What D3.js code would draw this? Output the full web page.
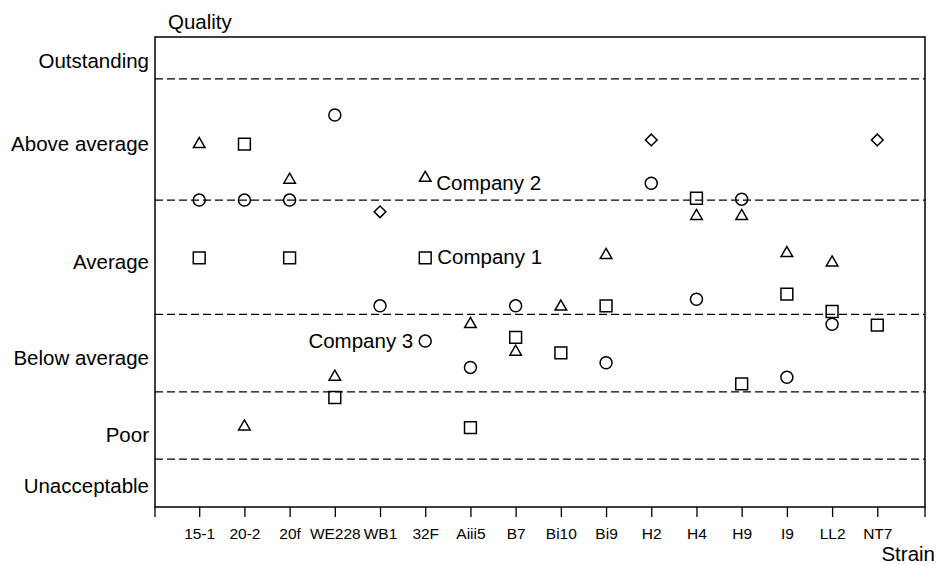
<!DOCTYPE html>
<html>
<head>
<meta charset="utf-8">
<script src="https://cdn.jsdelivr.net/npm/d3@7"></script>
<style>
  html, body { margin: 0; padding: 0; background: #fff; }
  svg text { font-family: "Liberation Sans", Arial, Helvetica, sans-serif; fill: #000; }
</style>
</head>
<body>
<svg id="chart" width="936" height="565"></svg>
<script>
// ---------- data ----------
const strains = ["15-1","20-2","20f","WE228","WB1","32F","Aiii5","B7","Bi10","Bi9","H2","H4","H9","I9","LL2","NT7"];
// quality score (0 = worst, 100 = best), null = not tested
const company1 = [53.0, 77.2, 53.0, 23.3, null, 53.0, 16.9, 36.1, 32.8, 42.8, null, 65.7, 26.2, 45.3, 41.6, 38.7];
const company2 = [77.2, 17.1, 69.6, 27.7, null, 70.0, 38.9, 33.0, 42.6, 53.6, null, 61.9, 61.9, 54.0, 52.0, null];
const company3 = [65.3, 65.3, 65.3, 83.4, 42.8, 35.3, 29.7, 42.8, null, 30.7, 68.9, 44.2, 65.5, 27.6, 38.9, null];
const otherSeries = [null, null, null, null, 62.8, null, null, null, null, null, 78.1, null, null, null, null, 78.1];

const qualityLabels = ["Outstanding", "Above average", "Average", "Below average", "Poor", "Unacceptable"];
const qualityLabelValues = [94.9, 77.2, 52.1, 31.7, 15.3, 4.5];
const bandBoundaries = [91.1, 65.3, 41.0, 24.5, 10.2];
const annotatedStrain = "32F";

(function () {
// ---------- layout ----------
const svg = d3.select("#chart");
const L = 155, R = 925, T = 37, B = 507;

const x = d3.scalePoint().domain(strains).range([L - 1, R - 2.5]).padding(1);
const y = d3.scaleLinear().domain([0, 100]).range([B, T]);

// frame
svg.append("rect")
  .attr("x", L).attr("y", T)
  .attr("width", R - L).attr("height", B - T)
  .attr("fill", "none").attr("stroke", "#000").attr("stroke-width", 1.5);

// band boundaries
svg.append("g").selectAll("line").data(bandBoundaries).join("line")
  .attr("x1", L).attr("x2", R)
  .attr("y1", d => y(d)).attr("y2", d => y(d))
  .attr("stroke", "#000").attr("stroke-width", 1.2)
  .attr("stroke-dasharray", "8,4");

// x axis
const xAxis = d3.axisBottom(x).tickSize(10).tickPadding(11);
const gx = svg.append("g").attr("transform", `translate(0,${B})`).call(xAxis);
gx.select(".domain").remove();
gx.selectAll(".tick line").attr("stroke", "#000").attr("stroke-width", 1.3);
gx.selectAll(".tick text").style("font-size", "15.5px").attr("fill", "#000");
// edge ticks
svg.append("g").selectAll("line").data([L, R]).join("line")
  .attr("x1", d => d).attr("x2", d => d)
  .attr("y1", B).attr("y2", B + 10)
  .attr("stroke", "#000").attr("stroke-width", 1.3);

// y category labels
svg.append("g").selectAll("text").data(qualityLabels).join("text")
  .attr("x", 149)
  .attr("y", (d, i) => y(qualityLabelValues[i]))
  .attr("dy", "0.35em")
  .attr("text-anchor", "end")
  .style("font-size", "20.5px")
  .text(d => d);

// axis titles
svg.append("text").attr("x", 168).attr("y", 29).style("font-size", "20.5px").text("Quality");
svg.append("text").attr("x", 935).attr("y", 561).attr("text-anchor", "end").style("font-size", "20.5px").text("Strain");

// ---------- markers ----------
const sw = 1.5;
function pts(arr) {
  return strains.map((s, i) => ({ s, v: arr[i] })).filter(d => d.v !== null);
}

// Company 1: squares
svg.append("g").selectAll("path").data(pts(company1)).join("path")
  .attr("transform", d => `translate(${x(d.s)},${y(d.v)})`)
  .attr("d", d3.symbol(d3.symbolSquare, 140)())
  .attr("fill", "none").attr("stroke", "#000").attr("stroke-width", sw);

// Company 2: triangles
svg.append("g").selectAll("path").data(pts(company2)).join("path")
  .attr("transform", d => `translate(${x(d.s)},${y(d.v)})`)
  .attr("d", d3.symbol(d3.symbolTriangle, 58)())
  .attr("fill", "none").attr("stroke", "#000").attr("stroke-width", sw);

// Company 3: circles
svg.append("g").selectAll("circle").data(pts(company3)).join("circle")
  .attr("cx", d => x(d.s)).attr("cy", d => y(d.v)).attr("r", 6)
  .attr("fill", "none").attr("stroke", "#000").attr("stroke-width", sw);

// other: diamonds
svg.append("g").selectAll("path").data(pts(otherSeries)).join("path")
  .attr("transform", d => `translate(${x(d.s)},${y(d.v)}) rotate(45)`)
  .attr("d", d3.symbol(d3.symbolSquare, 68)())
  .attr("fill", "none").attr("stroke", "#000").attr("stroke-width", sw);

// series annotations at 32F
const ai = strains.indexOf(annotatedStrain);
const ax = x(annotatedStrain);
svg.append("text").attr("x", ax + 11).attr("y", y(company2[ai]) + 5).attr("dy", "0.35em")
  .style("font-size", "20.5px").text("Company 2");
svg.append("text").attr("x", ax + 12).attr("y", y(company1[ai]) - 1).attr("dy", "0.35em")
  .style("font-size", "20.5px").text("Company 1");
svg.append("text").attr("x", ax - 12).attr("y", y(company3[ai])).attr("dy", "0.35em")
  .attr("text-anchor", "end").style("font-size", "20.5px").text("Company 3");
})();
</script>
</body>
</html>
